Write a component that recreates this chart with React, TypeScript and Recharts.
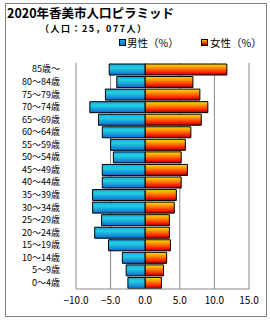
import React from 'react';
import { BarChart, Bar, XAxis, YAxis, CartesianGrid, Legend } from 'recharts';

const ageLabels = [
  '85歳～', '80～84歳', '75～79歳', '70～74歳', '65～69歳', '60～64歳',
  '55～59歳', '50～54歳', '45～49歳', '40～44歳', '35～39歳', '30～34歳',
  '25～29歳', '20～24歳', '15～19歳', '10～14歳', '5～9歳', '0～4歳',
];
const maleValues = [5.2, 4.1, 5.75, 8.0, 6.75, 6.2, 5.0, 4.6, 6.2, 6.2, 7.6, 7.6, 6.3, 7.3, 5.3, 3.3, 2.75, 2.5];
const femaleValues = [11.8, 6.9, 7.9, 9.05, 8.1, 6.6, 5.8, 5.2, 6.1, 5.2, 4.5, 4.2, 3.5, 3.5, 3.65, 3.1, 2.65, 2.35];
const xTicks = [-10, -5, 0, 5, 10, 15];

const data = ageLabels.map((age, i) => ({
  age,
  male: -maleValues[i],
  female: femaleValues[i],
}));

const font = '"Noto Sans CJK JP", sans-serif';

const fmt = (v: number) => v.toFixed(1).replace('-', '−');

const LegendBox = () => (
  <div style={{ position: 'relative', height: 15, fontFamily: font, fontSize: 10.5, lineHeight: '15px', color: '#000' }}>
    <div style={{ position: 'absolute', left: 119, top: 4, width: 5, height: 5, border: '1px solid #000', background: 'linear-gradient(#18b0e8, #1070d8)' }} />
    <span style={{ position: 'absolute', left: 127, top: 0 }}>男性（%）</span>
    <div style={{ position: 'absolute', left: 201, top: 4, width: 5, height: 5, border: '1px solid #000', background: 'linear-gradient(#ffd000, #ff4000, #a00000)' }} />
    <span style={{ position: 'absolute', left: 210, top: 0 }}>女性（%）</span>
  </div>
);

export default function App() {
  return (
    <div style={{ position: 'absolute', left: 0, top: 0, width: 270, height: 320, background: '#fff' }}>
      <div style={{ position: 'absolute', left: 5, top: 3, width: 260, height: 312, border: '1px solid #808080' }} />
      <div style={{ position: 'absolute', left: 7, top: 4, fontFamily: font, fontSize: 12.5, fontWeight: 'bold', lineHeight: '18px', color: '#000' }}>
        2020年香美市人口ピラミッド
      </div>
      <div style={{ position: 'absolute', left: 40, top: 22, fontFamily: font, fontSize: 9, fontWeight: 'bold', lineHeight: '13px', letterSpacing: 1.5, color: '#000' }}>
        （人口：25，077人）
      </div>
      <BarChart
        width={270}
        height={320}
        data={data}
        layout="vertical"
        stackOffset="sign"
        barCategoryGap={1}
        margin={{ top: 48, right: 21, bottom: 1, left: 0 }}
      >
        <defs>
          <linearGradient id="maleGrad" x1="0" y1="0" x2="0" y2="1">
            <stop offset="0%" stopColor="#18a8e8" />
            <stop offset="35%" stopColor="#20d0e0" />
            <stop offset="100%" stopColor="#1068d0" />
          </linearGradient>
          <linearGradient id="femaleGrad" x1="0" y1="0" x2="0" y2="1">
            <stop offset="0%" stopColor="#ffe000" />
            <stop offset="40%" stopColor="#ff8000" />
            <stop offset="75%" stopColor="#ff2000" />
            <stop offset="100%" stopColor="#a00000" />
          </linearGradient>
        </defs>
        <CartesianGrid horizontal={false} stroke="#888" />
        <XAxis
          type="number"
          domain={[-10, 15]}
          ticks={xTicks}
          tickFormatter={fmt}
          height={30}
          axisLine={{ stroke: '#888' }}
          tickLine={false}
          tick={{ fontFamily: font, fontSize: 10, fill: '#000' }}
          interval={0}
        />
        <YAxis
          type="category"
          dataKey="age"
          width={76}
          axisLine={false}
          tickLine={false}
          tickMargin={10}
          interval={0}
          tick={{ fontFamily: font, fontSize: 9, fill: '#000' }}
        />
        <Legend verticalAlign="top" align="left" wrapperStyle={{ top: 35, left: 0, width: 270 }} content={() => <LegendBox />} />
        <Bar dataKey="male" stackId="a" fill="url(#maleGrad)" stroke="#000" strokeWidth={1} isAnimationActive={false} />
        <Bar dataKey="female" stackId="a" fill="url(#femaleGrad)" stroke="#000" strokeWidth={1} isAnimationActive={false} />
      </BarChart>
    </div>
  );
}
